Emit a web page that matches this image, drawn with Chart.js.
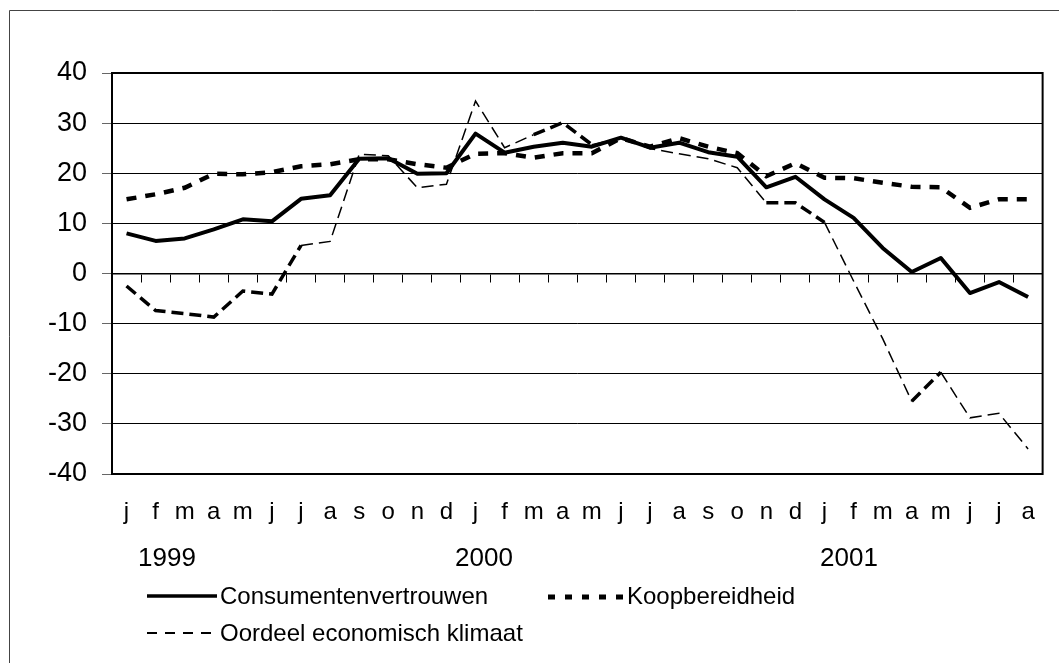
<!DOCTYPE html>
<html lang="nl">
<head>
<meta charset="UTF-8">
<title>Consumentenvertrouwen 1999-2001</title>
<script src="https://cdn.jsdelivr.net/npm/chart.js"></script>
<style>
  html, body { margin: 0; padding: 0; background: #fff; }
  canvas { display: block; }
</style>
</head>
<body>
<canvas id="chart" width="1059" height="663"></canvas>
<script>
// months j..d for 1999 and 2000, j..a for 2001
const months = [
  'j', 'f', 'm', 'a', 'm', 'j', 'j', 'a', 's', 'o', 'n', 'd',
  'j', 'f', 'm', 'a', 'm', 'j', 'j', 'a', 's', 'o', 'n', 'd',
  'j', 'f', 'm', 'a', 'm', 'j', 'j', 'a'
]
const years = ['1999', '2000', '2001']

const consumentenvertrouwen = [
  8, 6.5, 7, 8.8, 10.8, 10.4, 14.9, 15.6, 22.9, 23, 19.9, 20,
  27.9, 24.1, 25.3, 26.1, 25.3, 27.1, 25.1, 26.1, 24.2, 23.3, 17.2, 19.3,
  14.8, 11.1, 5.1, 0.3, 3.1, -3.9, -1.7, -4.7
]
const koopbereidheid = [
  14.8, 15.8, 17.1, 19.9, 19.8, 20.2, 21.4, 21.8, 22.8, 22.8, 21.8, 21.1,
  23.9, 24, 23.1, 24, 24, 27, 25.3, 27, 25.3, 24, 19.4, 22,
  19.1, 19, 18.1, 17.3, 17.2, 13.1, 14.8, 14.8
]
const oordeelKlimaat = [
  -2.5, -7.4, -8, -8.7, -3.5, -4.1, 5.6, 6.4, 23.8, 23.5, 17.1, 17.8,
  34.4, 25.1, 27.7, 30.1, 25.7, 27, 24.9, 23.9, 22.9, 21.1, 14.1, 14.1,
  10.2, -1.5, -13, -25.5, -19.7, -28.8, -27.9, -35
]

const yTicks = { min: -40, max: 40, step: 10 }

const FONT = '"Liberation Sans", Arial, sans-serif'

// the klimaat line comes out heavier on a few stretches in the original
const heavySegments = new Set([0, 1, 2, 3, 4, 5, 14, 15, 22, 23, 27])

// outer frame, year labels and the hand-placed legend
const decorations = {
  id: 'decorations',
  beforeDatasetsDraw(chart) {
    const { ctx, chartArea: a } = chart
    ctx.save()
    ctx.strokeStyle = '#000'
    ctx.lineWidth = 2
    ctx.strokeRect(a.left, a.top, a.right - a.left, a.bottom - a.top)
    ctx.restore()
  },
  afterDraw(chart) {
    const { ctx } = chart
    ctx.save()
    // partial page frame
    ctx.strokeStyle = '#444'
    ctx.lineWidth = 1
    ctx.beginPath()
    ctx.moveTo(1059, 10.5)
    ctx.lineTo(9.5, 10.5)
    ctx.lineTo(9.5, 663)
    ctx.stroke()

    ctx.fillStyle = '#000'
    ctx.textBaseline = 'alphabetic'
    ctx.font = '26px ' + FONT
    const yearX = [138, 455, 820]
    years.forEach((y, i) => ctx.fillText(y, yearX[i], 566))

    ctx.font = '24px ' + FONT
    ctx.textBaseline = 'middle'
    const sample = (x1, x2, y, width, dash) => {
      ctx.beginPath()
      ctx.lineWidth = width
      ctx.setLineDash(dash)
      ctx.moveTo(x1, y)
      ctx.lineTo(x2, y)
      ctx.stroke()
    }
    ctx.strokeStyle = '#000'
    sample(147, 217, 596, 3.5, [])
    ctx.fillText('Consumentenvertrouwen', 220, 597)
    sample(548, 627, 597, 5, [7, 10])
    ctx.fillText('Koopbereidheid', 627, 597)
    sample(147, 217, 633, 1.8, [10, 8])
    ctx.fillText('Oordeel economisch klimaat', 220, 634)
    ctx.restore()
  }
}

new Chart(document.getElementById('chart'), {
  type: 'line',
  data: {
    labels: months,
    datasets: [
      {
        label: 'Consumentenvertrouwen',
        data: consumentenvertrouwen,
        borderColor: '#000',
        borderWidth: 4,
        borderJoinStyle: 'round',
        pointRadius: 0,
        tension: 0,
        order: 1
      },
      {
        label: 'Koopbereidheid',
        data: koopbereidheid,
        borderColor: '#000',
        borderWidth: 4.5,
        borderDash: [10, 9],
        pointRadius: 0,
        tension: 0,
        order: 2
      },
      {
        label: 'Oordeel economisch klimaat',
        data: oordeelKlimaat,
        borderColor: '#000',
        borderWidth: 1.5,
        borderDash: [12, 6],
        pointRadius: 0,
        tension: 0,
        order: 3,
        segment: {
          borderWidth: ctx => heavySegments.has(ctx.p0DataIndex) ? 3.5 : 1.5
        }
      }
    ]
  },
  options: {
    responsive: false,
    animation: false,
    devicePixelRatio: 1,
    layout: { padding: { top: 73, right: 16, left: 0, bottom: 0 } },
    plugins: {
      legend: { display: false },
      tooltip: { enabled: false }
    },
    scales: {
      x: {
        type: 'category',
        offset: true,
        grid: { display: false, drawTicks: false },
        border: { display: false },
        ticks: {
          color: '#000',
          font: { family: FONT, size: 24 },
          padding: 24,
          maxRotation: 0,
          autoSkip: false
        },
        afterFit: s => { s.height = 189 }
      },
      x2: {
        type: 'category',
        axis: 'x',
        position: { y: 0 },
        offset: true,
        grid: { offset: true, drawOnChartArea: false, tickLength: 8, color: '#000' },
        border: { color: '#000', width: 1.5 },
        ticks: { display: false }
      },
      y: {
        min: yTicks.min,
        max: yTicks.max,
        ticks: {
          stepSize: yTicks.step,
          color: '#000',
          font: { family: FONT, size: 27 },
          padding: 15
        },
        grid: { color: '#000', lineWidth: 1, tickLength: 10, tickColor: '#666' },
        border: { color: '#000', width: 2 },
        afterFit: s => { s.width = 112 }
      }
    }
  },
  plugins: [decorations]
})
</script>
</body>
</html>
